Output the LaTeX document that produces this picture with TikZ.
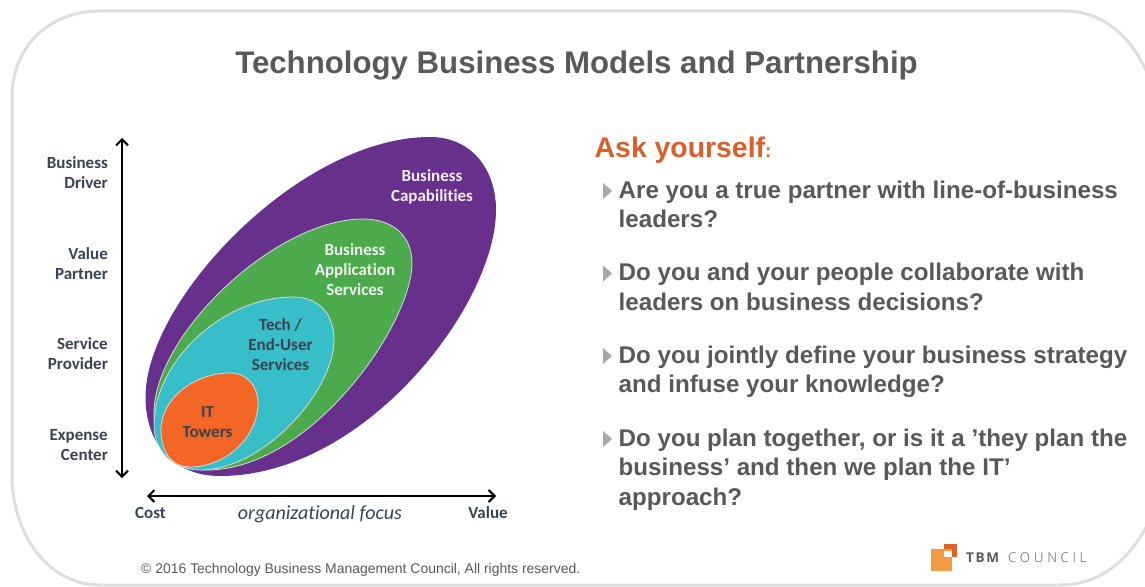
\documentclass[tikz,border=0pt]{standalone}
\usepackage{fontspec}
\setmainfont{Liberation Sans}
\newfontfamily\carl[Ligatures=CommonOff]{Carlito}
\newfontfamily\tbmfont[LetterSpace=27]{Open Sans Light}
\newfontfamily\tbmbold[LetterSpace=12]{Open Sans}
\definecolor{framegray}{HTML}{DEDEDE}
\definecolor{txtgray}{HTML}{58595B}
\definecolor{labgray}{HTML}{3C4350}
\definecolor{askor}{HTML}{D9602A}
\definecolor{purp}{HTML}{66308C}
\definecolor{grn}{HTML}{4BAA4B}
\definecolor{cyn}{HTML}{38BEC8}
\definecolor{orng}{HTML}{F36625}
\definecolor{logolight}{HTML}{F49A45}
\definecolor{logodark}{HTML}{E0622A}
\definecolor{tri}{HTML}{A6A8A8}
\usetikzlibrary{arrows.meta}
\tikzset{
  x=1pt,y=-1pt,
  blob/.style={draw=white!70!gray,line width=0.8pt},
  axislab/.style={font=\carl\bfseries\fontsize{17}{20}\selectfont,text=labgray,align=right,anchor=east,inner sep=0pt},
  innerlab/.style={font=\carl\bfseries\fontsize{17}{20}\selectfont,align=center,inner sep=0pt},
  axis/.style={line width=2pt,black,{Straight Barb[length=6pt,width=12pt]}-{Straight Barb[length=6pt,width=12pt]}},
  bullet/.style={font=\bfseries\fontsize{24.15}{29.5}\selectfont,text=txtgray,align=left,anchor=north west,inner sep=0pt},
  tribullet/.style={fill=tri},
}
\begin{document}
\begin{tikzpicture}
\useasboundingbox (0,0) rectangle (1145,586);
\clip (0,0) rectangle (1145,586);
\fill[white] (0,0) rectangle (1145,586);
% frame
\draw[framegray,line width=3pt] (1150,80) .. controls (1135,40) and (1105,11) .. (1065,11) -- (100,11)
  .. controls (48,11) and (12,48) .. (12,97) -- (12,480) .. controls (14,535) and (48,585) .. (100,585)
  -- (1060,585) .. controls (1100,585) and (1130,560) .. (1150,520);
% title
\node[font=\bfseries\fontsize{31.2}{36}\selectfont,text=txtgray,inner sep=0pt] (title) at (576.5,65.5) {Technology Business Models and Partnership};
% blobs
\fill[purp] (145.5,397) .. controls (145.5,300) and (300,137) .. (430,137) .. controls (472,137) and (496,170) .. (496,210) .. controls (496,305) and (365,476) .. (220,476) .. controls (175,476) and (145.5,445) .. (145.5,397) -- cycle;
\draw[blob,fill=grn] (154,413) .. controls (154,335) and (275,219) .. (363,219) .. controls (393,219) and (412,236) .. (412,263) .. controls (412,325) and (310,470) .. (207,470) .. controls (172,470) and (154,445) .. (154,413) -- cycle;
\draw[blob,fill=cyn] (154,425) .. controls (154,362) and (222,297) .. (293,297) .. controls (320,297) and (334,315) .. (334,340) .. controls (334,390) and (265,470) .. (200,470) .. controls (172,470) and (154,450) .. (154,425) -- cycle;
\draw[blob,fill=orng] (161,430) .. controls (161,398) and (195,373) .. (230,373) .. controls (247,373) and (258,386) .. (258,403) .. controls (258,438) and (225,467) .. (190,467) .. controls (172,467) and (161,452) .. (161,430) -- cycle;
% inner labels
\node[innerlab,text=white!92!purp] (cap) at (432,186.5) {Business\\Capabilities};
\node[innerlab,text=white!92!grn] (app) at (355,269.5) {Business\\Application\\Services};
\node[innerlab,text=labgray] (tech) at (280.5,344.5) {Tech /\\End-User\\Services};
\node[innerlab,text=labgray] (tow) at (207.5,422) {IT\\Towers};
% axes
\coordinate (vt) at (122,138); \coordinate (vb) at (122,478);
\coordinate (hl) at (147,496); \coordinate (hr) at (496,496);
\draw[axis] (vt) -- (vb);
\draw[axis] (hl) -- (hr);
% axis labels
\node[axislab] (l1) at (108,172.5) {Business\\Driver};
\node[axislab] (l2) at (108,263.5) {Value\\Partner};
\node[axislab] (l3) at (108,354) {Service\\Provider};
\node[axislab] (l4) at (108,445) {Expense\\Center};
\node[font=\carl\bfseries\fontsize{17}{20}\selectfont,text=labgray,inner sep=0pt] (cost) at (150.5,513) {Cost};
\node[font=\carl\bfseries\fontsize{17}{20}\selectfont,text=labgray,inner sep=0pt] (val) at (488,513) {Value};
\node[font=\carl\itshape\fontsize{20}{22}\selectfont,text=labgray,inner sep=0pt] (foc) at (320,514.5) {organizational focus};
% right column
\node[anchor=west,font=\bfseries\fontsize{28.4}{30}\selectfont,text=askor,inner sep=0pt] (ask) at (594.5,150) {Ask yourself\fontsize{19}{20}\selectfont:};
\fill[tribullet] (603,183) -- (612,191) -- (603,199) -- cycle;
\fill[tribullet] (603,265.5) -- (612,273.5) -- (603,281.5) -- cycle;
\fill[tribullet] (603,348) -- (612,356) -- (603,364) -- cycle;
\fill[tribullet] (603,431) -- (612,439) -- (603,447) -- cycle;
\node[bullet] (q1) at (618.5,180.5) {Are you a true partner with line-of-business\\leaders?};
\node[bullet] (q2) at (618.5,263) {Do you and your people collaborate with\\leaders on business decisions?};
\node[bullet] (q3) at (618.5,345.5) {Do you jointly define your business strategy\\and infuse your knowledge?};
\node[bullet] (q4) at (618.5,428.5) {Do you plan together, or is it a ’they plan the\\business’ and then we plan the IT’\\approach?};
% footer
\node[anchor=west,font=\fontsize{13.95}{16}\selectfont,text=txtgray,inner sep=0pt] (copy) at (141,569.5) {© 2016 Technology Business Management Council, All rights reserved.};
% logo
\fill[logodark] (944,544) rectangle (957,557);
\fill[logolight] (931,549) rectangle (952,571);
\fill[white] (944,551) rectangle (952,557);
\node[anchor=west,font=\tbmbold\bfseries\fontsize{13.5}{16}\selectfont,text=txtgray,inner sep=0pt] (tbm) at (966,558) {TBM};
\node[anchor=west,font=\tbmfont\fontsize{13.5}{16}\selectfont,text=txtgray,inner sep=0pt] (council) at (1008,558) {COUNCIL};
\end{tikzpicture}
\end{document}
